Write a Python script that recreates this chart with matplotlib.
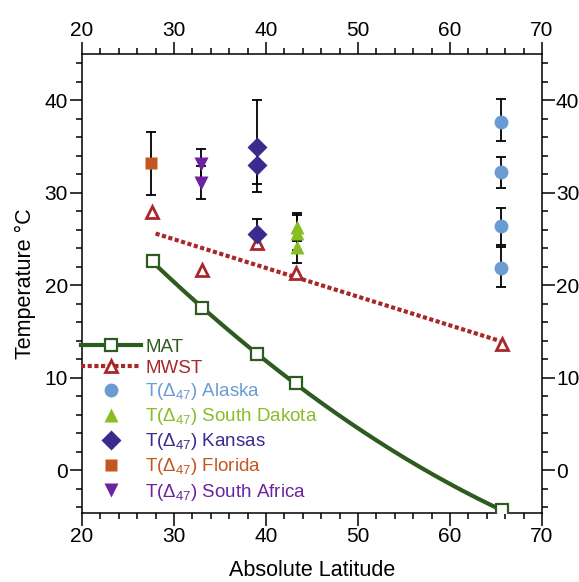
import numpy as np
import matplotlib
matplotlib.use("Agg")
import matplotlib.pyplot as plt
from matplotlib.ticker import MultipleLocator

plt.rcParams['font.family'] = ['Liberation Sans', 'DejaVu Sans']
plt.rcParams['mathtext.fontset'] = 'custom'
plt.rcParams['mathtext.rm'] = 'Liberation Sans'
plt.rcParams['mathtext.it'] = 'Liberation Sans:italic'

# data
mat_lat = [27.7, 33.0, 39.0, 43.3, 65.6]
mat_t = [22.6, 17.5, 12.6, 9.4, -4.3]

mwst_lat = [27.6, 33.0, 39.0, 43.3, 65.6]
mwst_t = [27.9, 21.7, 24.6, 21.3, 13.7]
mwst_fit_lat = [28.0, 65.4]
mwst_fit_t = [25.6, 14.0]

alaska_lat = [65.5, 65.5, 65.5, 65.5]
alaska_t = [37.7, 32.2, 26.4, 21.9]
alaska_err_lo = [2.1, 1.7, 2.0, 2.1]
alaska_err_hi = [2.4, 1.7, 2.0, 2.2]

sd_lat = [43.4, 43.4, 43.4]
sd_t = [26.3, 25.7, 24.1]
sd_err = [1.5, 1.9, 1.7]

kansas_lat = [39.0, 39.0, 39.0]
kansas_t = [34.9, 33.0, 25.6]
kansas_err_lo = [4.8, 2.1, 1.6]
kansas_err_hi = [5.1, 2.1, 1.6]

florida_lat = [27.5]
florida_t = [33.2]
florida_err_lo = [3.4]
florida_err_hi = [3.4]

safrica_lat = [32.9, 32.9]
safrica_t = [33.1, 31.1]
safrica_err = [1.6, 1.8]

c_mat = '#2e5b1f'
c_mwst = '#a8282a'
c_alaska = '#6a9bd1'
c_sd = '#87be26'
c_kansas = '#3a2b8d'
c_florida = '#c4561f'
c_safrica = '#6d22a0'

fig = plt.figure(figsize=(5.79, 5.82), dpi=100)
ax = fig.add_axes([82/579, 1 - 513/582, 460/579, 459/582])

# error bars first so markers sit on top
eb = dict(fmt='none', ecolor='black', elinewidth=1.3, capsize=3.5, capthick=1.3, zorder=2)
ax.errorbar(alaska_lat, alaska_t, yerr=[alaska_err_lo, alaska_err_hi], **eb)
ax.errorbar(sd_lat, sd_t, yerr=sd_err, **eb)
ax.errorbar(kansas_lat, kansas_t, yerr=[kansas_err_lo, kansas_err_hi], **eb)
ax.errorbar(florida_lat, florida_t, yerr=[florida_err_lo, florida_err_hi], **eb)
ax.errorbar(safrica_lat, safrica_t, yerr=safrica_err, **eb)

# MAT trend curve through the squares
coef = np.polyfit(mat_lat, mat_t, 2)
xs = np.linspace(min(mat_lat), max(mat_lat), 200)
ax.plot(xs, np.polyval(coef, xs), color=c_mat, lw=3, zorder=3)
ax.plot(mat_lat, mat_t, 's', ms=9, mfc='white', mec=c_mat, mew=1.6, zorder=4)
mat_handle, = ax.plot([], [], '-s', color=c_mat, lw=3, ms=9, mfc='white', mec=c_mat, mew=1.6)

# MWST trend line
ax.plot(mwst_fit_lat, mwst_fit_t, color=c_mwst, lw=3, ls=(0, (1, 0.6)), zorder=3)
ax.plot(mwst_lat, mwst_t, '^', ms=9, mfc='white', mec=c_mwst, mew=2, zorder=4)
mwst_handle, = ax.plot([], [], '^', color=c_mwst, lw=3, ls=(0, (1, 0.6)), ms=9,
                       mfc='white', mec=c_mwst, mew=2)

h_al, = ax.plot(alaska_lat, alaska_t, 'o', color=c_alaska, ms=10, mec='none', zorder=5)
h_sd, = ax.plot(sd_lat, sd_t, '^', color=c_sd, ms=10, mec='none', zorder=5)
h_ks, = ax.plot(kansas_lat, kansas_t, 'D', color=c_kansas, ms=10, mec='none', zorder=5)
h_fl, = ax.plot(florida_lat, florida_t, 's', color=c_florida, ms=9, mec='none', zorder=5)
h_sa, = ax.plot(safrica_lat, safrica_t, 'v', color=c_safrica, ms=10, mec='none', zorder=5)

ax.set_xlim(20, 70)
ax.set_ylim(-4.6, 45)
ax.xaxis.set_major_locator(MultipleLocator(10))
ax.xaxis.set_minor_locator(MultipleLocator(2))
ax.yaxis.set_major_locator(MultipleLocator(10))
ax.yaxis.set_minor_locator(MultipleLocator(2))
ax.tick_params(which='both', direction='out', top=True, right=True,
               labeltop=True, labelright=True, labelsize=15, width=1.1, pad=1)
ax.tick_params(which='major', length=9)
ax.tick_params(which='minor', length=4.5)
for s in ax.spines.values():
    s.set_linewidth(1.1)

ax.set_xlabel('Absolute Latitude', fontsize=15.5, labelpad=10)
ax.set_ylabel('Temperature °C', fontsize=15.5, labelpad=6)

labels = ['MAT', 'MWST',
          r'T($\Delta_{\mathit{47}}$) Alaska',
          r'T($\Delta_{\mathit{47}}$) South Dakota',
          r'T($\Delta_{\mathit{47}}$) Kansas',
          r'T($\Delta_{\mathit{47}}$) Florida',
          r'T($\Delta_{\mathit{47}}$) South Africa']
leg = ax.legend([mat_handle, mwst_handle, h_al, h_sd, h_ks, h_fl, h_sa], labels,
                loc='upper left', bbox_to_anchor=(-0.003, 0.38), frameon=False,
                fontsize=13.5, handlelength=3.2, handletextpad=0.25, labelspacing=0.22,
                borderpad=0, borderaxespad=0)
for txt, c in zip(leg.get_texts(), [c_mat, c_mwst, c_alaska, c_sd, c_kansas, c_florida, c_safrica]):
    txt.set_color(c)

fig.savefig('out.png', dpi=100)
